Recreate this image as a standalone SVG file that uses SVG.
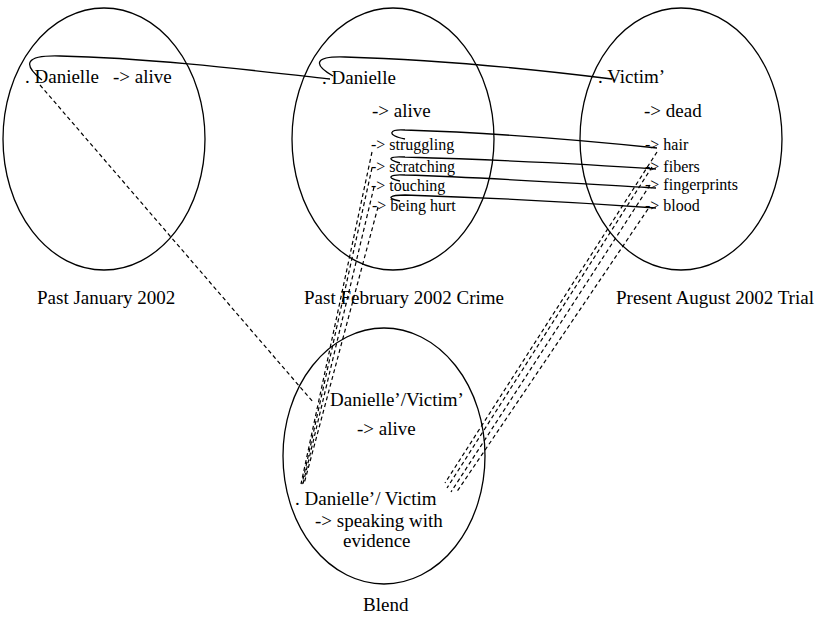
<svg xmlns="http://www.w3.org/2000/svg" width="820" height="617" viewBox="0 0 820 617">
  <style>
    .ring { fill: none; stroke: #000; stroke-width: 1.3; }
    .t { font-family: "Liberation Serif", "Times New Roman", serif; font-size: 19px; fill: #000; }
    .s { font-size: 16px; }
    .link { fill: none; stroke: #000; stroke-width: 1.3; }
    .map { fill: none; stroke: #000; stroke-width: 1.2; stroke-dasharray: 4 3; }
  </style>
  <rect width="820" height="617" fill="#fff"/>

  <!-- mental space: past, January 2002 -->
  <g id="space-january">
    <ellipse class="ring" cx="104" cy="139" rx="101" ry="131"/>
    <text class="t" x="25" y="83">. Danielle</text>
    <text class="t" x="113" y="83">-&gt; alive</text>
    <text class="t" x="37" y="304">Past January 2002</text>
  </g>

  <!-- mental space: past, February 2002 crime -->
  <g id="space-crime">
    <ellipse class="ring" cx="393" cy="139" rx="101" ry="131"/>
    <text class="t" x="322" y="84">. Danielle</text>
    <text class="t" x="372" y="117">-&gt; alive</text>
    <text class="t s" x="371" y="150">-&gt; struggling</text>
    <text class="t s" x="371" y="172">-&gt; scratching</text>
    <text class="t s" x="371" y="191">-&gt; touching</text>
    <text class="t s" x="372" y="211">-&gt; being hurt</text>
    <text class="t" x="304" y="304">Past February 2002 Crime</text>
  </g>

  <!-- mental space: present, August 2002 trial -->
  <g id="space-trial">
    <ellipse class="ring" cx="681" cy="139" rx="101" ry="131"/>
    <text class="t" x="598" y="83">. Victim’</text>
    <text class="t" x="644" y="117">-&gt; dead</text>
    <text class="t s" x="645" y="150">-&gt; hair</text>
    <text class="t s" x="645" y="172">-&gt; fibers</text>
    <text class="t s" x="645" y="190">-&gt; fingerprints</text>
    <text class="t s" x="645" y="211">-&gt; blood</text>
    <text class="t" x="616" y="304">Present August 2002 Trial</text>
  </g>

  <!-- blended space -->
  <g id="space-blend">
    <ellipse class="ring" cx="384" cy="456" rx="101" ry="128"/>
    <text class="t" x="330" y="406">Danielle’/Victim’</text>
    <text class="t" x="357" y="435">-&gt; alive</text>
    <text class="t" x="295" y="505">. Danielle’/ Victim</text>
    <text class="t" x="315" y="527">-&gt; speaking with</text>
    <text class="t" x="343" y="547">evidence</text>
    <text class="t" x="363" y="611">Blend</text>
  </g>

  <g id="connectors">
    <!-- identity links between spaces -->
    <path class="link" d="M 42,80 C 22,64 25,55 60,56 C 150,58 250,70 330,79"/>
    <path class="link" d="M 333,76 C 312,64 315,56 345,57 C 450,60 540,70 612,79"/>
    <path class="link" d="M 405,139 C 385,135 390,129 405,130 C 500,133 600,142 657,148"/>
    <path class="link" d="M 400,163 C 385,159 390,156 405,157 C 500,160 600,165 656,169"/>
    <path class="link" d="M 400,181 C 385,178 390,174 405,175 C 500,178 600,185 656,188"/>
    <path class="link" d="M 400,201 C 385,198 390,195 405,195 C 500,198 600,204 656,208"/>

    <!-- projections into the blend -->
    <line class="map" x1="40" y1="85" x2="313" y2="402"/>
    <line class="map" x1="372" y1="152" x2="301" y2="484"/>
    <line class="map" x1="372" y1="168" x2="302" y2="484"/>
    <line class="map" x1="374" y1="187" x2="303" y2="484"/>
    <line class="map" x1="378" y1="207" x2="304" y2="484"/>
    <line class="map" x1="657" y1="152" x2="445" y2="483"/>
    <line class="map" x1="652" y1="167" x2="447" y2="488"/>
    <line class="map" x1="650" y1="185" x2="451" y2="492"/>
    <line class="map" x1="648" y1="209" x2="456" y2="493"/>
  </g>
</svg>
